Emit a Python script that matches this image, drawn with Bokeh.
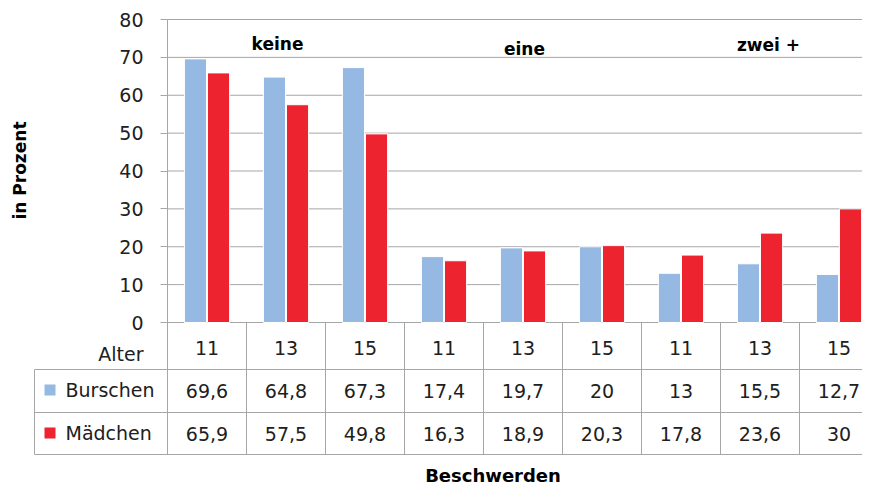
import math
from bokeh.plotting import figure
from bokeh.models import Range1d, FixedTicker, ColumnDataSource
from bokeh.core.properties import value
from bokeh.embed import file_html
from bokeh.resources import INLINE

# ---------------- data ----------------
groups = ["keine", "eine", "zwei +"]
ages = ["11", "13", "15", "11", "13", "15", "11", "13", "15"]
burschen = [69.6, 64.8, 67.3, 17.4, 19.7, 20, 13, 15.5, 12.7]
maedchen = [65.9, 57.5, 49.8, 16.3, 18.9, 20.3, 17.8, 23.6, 30]
series_names = ["Burschen", "Mädchen"]
y_ticks = [0, 10, 20, 30, 40, 50, 60, 70, 80]
row_label = "Alter"
y_title = "in Prozent"
x_title = "Beschwerden"

# ---------------- layout helpers ----------------
W, H = 862, 485
AX_X = 167          # canvas x of value axis
Y0 = 322            # canvas y of value 0
Y80 = 19            # canvas y of value 80
CAT_PX = 79.0       # px per category
YMAX = 80.0
UPP = YMAX / (Y0 - Y80)   # value units per pixel


def xd(px):  # canvas px -> data x
    return (px - AX_X) / CAT_PX


def yd(py):  # canvas px -> data y
    return (Y0 - py) * UPP


BLUE = "#95B9E3"
RED = "#EE2330"
GRID = "#A6A6A6"
TXT = "#202020"
FONT = "DejaVu Sans"

p = figure(width=W, height=H,
           x_range=Range1d(xd(0), xd(W)), y_range=Range1d(yd(H), yd(0)),
           output_backend="svg", toolbar_location=None,
           x_axis_location=None, min_border=0)
p.outline_line_color = None
p.grid.visible = False
p.background_fill_color = "white"
p.border_fill_color = "white"

# value axis at data x = 0
ax = p.yaxis[0]
ax.fixed_location = 0
ax.ticker = FixedTicker(ticks=y_ticks)
ax.bounds = (yd(454), YMAX)
ax.axis_line_color = GRID
ax.major_tick_line_color = GRID
ax.major_tick_out = 7
ax.major_tick_in = 0
ax.minor_tick_line_color = None
ax.major_label_standoff = 17
ax.major_label_text_font = FONT
ax.major_label_text_font_size = "19px"
ax.major_label_text_color = TXT

n = len(ages)
x_end = xd(W)

# gridlines
p.segment(x0=[0] * len(y_ticks), y0=y_ticks, x1=[x_end] * len(y_ticks), y1=y_ticks,
          line_color=GRID, line_width=1)

# bars
BW = 0.28
OFF = 0.146
centers = [i + 0.5 for i in range(n)]
src = ColumnDataSource(dict(xb=[c - OFF for c in centers], xm=[c + OFF for c in centers],
                            b=burschen, m=maedchen))
p.vbar(x="xb", top="b", width=BW, bottom=0, source=src,
       fill_color=BLUE, line_color="white", line_width=1)
p.vbar(x="xm", top="m", width=BW, bottom=0, source=src,
       fill_color=RED, line_color="white", line_width=1)

# group labels
gx = [xd(277), xd(524), xd(768)]
gy = [yd(43), yd(48), yd(44)]
p.text(x=gx, y=gy, text=groups, text_font=value(FONT), text_font_style="bold",
       text_font_size="17px", text_color="black", text_align="center",
       text_baseline="middle")

# ---------------- data table ----------------
row_lines = [369, 412, 454]
p.segment(x0=[xd(34)] * 3, y0=[yd(r) for r in row_lines],
          x1=[x_end] * 3, y1=[yd(r) for r in row_lines], line_color=GRID, line_width=1)
p.segment(x0=list(range(1, n + 1)), y0=[0] * n, x1=list(range(1, n + 1)),
          y1=[yd(454)] * n, line_color=GRID, line_width=1)
p.segment(x0=[xd(34)], y0=[yd(369)], x1=[xd(34)], y1=[yd(454)],
          line_color=GRID, line_width=1)

fmt = lambda v: ("%g" % v).replace(".", ",")
p.text(x=centers, y=[yd(347)] * n, text=ages, text_font=value(FONT),
       text_font_size="19px", text_color=TXT, text_align="center", text_baseline="middle")
p.text(x=centers, y=[yd(390.5)] * n, text=[fmt(v) for v in burschen], text_font=value(FONT),
       text_font_size="19px", text_color=TXT, text_align="center", text_baseline="middle")
p.text(x=centers, y=[yd(433.5)] * n, text=[fmt(v) for v in maedchen], text_font=value(FONT),
       text_font_size="19px", text_color=TXT, text_align="center", text_baseline="middle")

p.text(x=[xd(143)], y=[yd(353)], text=[row_label], text_font=value(FONT),
       text_font_size="19px", text_color=TXT, text_align="right", text_baseline="middle")

# legend keys inside the table
p.rect(x=[xd(49.5), xd(49.5)], y=[yd(389.5), yd(432.5)], width=11, height=11,
       width_units="screen", height_units="screen",
       fill_color=[BLUE, RED], line_color=None)
p.text(x=[xd(65)] * 2, y=[yd(389.5), yd(432.5)], text=series_names, text_font=value(FONT),
       text_font_size="19px", text_color=TXT, text_align="left", text_baseline="middle")

# axis titles
p.text(x=[xd(19)], y=[yd(170)], text=[y_title], angle=math.pi / 2,
       text_font=value(FONT), text_font_style="bold", text_font_size="17px",
       text_color="black", text_align="center", text_baseline="middle")
p.text(x=[xd(492.5)], y=[yd(475)], text=[x_title],
       text_font=value(FONT), text_font_style="bold", text_font_size="18px",
       text_color="black", text_align="center", text_baseline="middle")

open("out.html", "w").write(file_html(p, INLINE))
